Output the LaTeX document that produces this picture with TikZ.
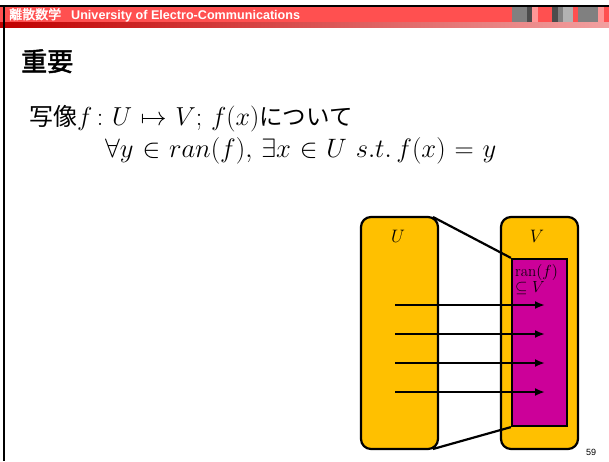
\RequirePackage{fix-cm}
\documentclass[tikz,border=0pt]{standalone}
\usepackage{amsmath,amssymb}
\usepackage{fontspec}
\setsansfont{Liberation Sans}
\newfontfamily\cjk{Noto Sans CJK JP}
\newfontfamily\cjkbold[FakeBold=2]{Noto Sans CJK JP}
\usepackage{xcolor}
\usetikzlibrary{arrows.meta,positioning,calc}
\definecolor{hdred}{HTML}{FF5050}
\definecolor{hddark}{HTML}{C00000}
\definecolor{hdpink}{HTML}{F2A0A0}
\definecolor{setorange}{HTML}{FFC000}
\definecolor{ranmag}{HTML}{CC0099}
\newcommand{\wide}{\thickmuskip=6mu plus 2mu\medmuskip=5mu\relax}

\begin{document}
\begin{tikzpicture}[x=1pt, y=-1pt]
  \tikzset{setbox/.style={draw, line width=2.2pt, fill=setorange, rounded corners=10pt},
    arr/.style={line width=2.2pt, -{Latex[length=10pt,width=8pt]}}}
  \useasboundingbox (0,0) rectangle (609,461);
  % slide header
  \fill[hdred] (0,7) rectangle (609,22);
  \shade[left color=hddark, right color=hdpink] (0,22) rectangle (609,27);
  \fill[gray] (512,7) rectangle (527,22); \fill[black!70] (527,7) rectangle (532,22);
  \fill[hdred!60] (532,7) rectangle (538,22); \fill[black!70] (552,7) rectangle (558,22);
  \fill[gray] (558,7) rectangle (563,22); \fill[black!30] (563,7) rectangle (573,22);
  \fill[gray] (578,7) rectangle (598,22); \fill[hdred!60] (598,7) rectangle (604,22);
  \draw[line width=2pt] (0,6) -- (609,6);
  \draw[line width=2pt] (4,6) -- (4,461);
  \node[anchor=west, text=white, inner sep=0pt] (hd) at (9,15)
    {{\cjkbold\fontsize{13}{14}\selectfont 離散数学}\hspace{10pt}{\sffamily\bfseries\fontsize{12.6}{14}\selectfont University of Electro-Communications}};
  % title and statement
  \node[anchor=base west, inner sep=0pt] (title) at (21,71) {\cjkbold\fontsize{26}{30}\selectfont 重要};
  \node[anchor=base west, inner sep=0pt] (l1) at (29,125)
    {\fontsize{24}{28}\selectfont\cjk 写像\fontsize{26}{28}\selectfont$\wide f\,{:}\;U \mapsto V;\, f(x)$\fontsize{23.5}{28}\selectfont について};
  \node[anchor=base west, inner sep=0pt] (l2) at (105,157)
    {\fontsize{26.6}{28}\selectfont $\wide \forall y \in ran(f),\, \exists x \in U\; s.t.\, f(x) = y$};
  % sets
  \node[setbox, minimum width=77pt, minimum height=232pt] (U) at (399.5,333) {};
  \node[setbox, minimum width=77pt, minimum height=232pt] (V) at (539.5,333) {};
  \node[draw, line width=2.2pt, fill=ranmag, minimum width=55pt, minimum height=167pt] (ran) at (539.5,342.5) {};
  \node (Ulab) at (398,236) {\fontsize{18}{19}\selectfont $U$};
  \node (Vlab) at (537,236) {\fontsize{18}{19}\selectfont $V$};
  \node[anchor=north west, inner sep=0pt, align=left] (rl) at (515,264)
    {\fontsize{16}{18.5}\selectfont $\mathrm{ran}(f)$\\ \fontsize{16}{18.5}\selectfont $\subseteq V$};
  \coordinate (ut) at (433,217); \coordinate (ub) at (433,449);
  \draw[line width=2.2pt] (ut) -- (ran.north west);
  \draw[line width=2.2pt] (ub) -- (ran.south west);
  \foreach \i/\y in {1/305,2/334,3/363,4/392} {
    \coordinate (a\i) at (395,\y); \coordinate (b\i) at (545,\y);
    \draw[arr] (a\i) -- (b\i);
  }
  \node[inner sep=0pt] (pg) at (591,452) {\sffamily\fontsize{9}{10}\selectfont 59};
\end{tikzpicture}
\end{document}
